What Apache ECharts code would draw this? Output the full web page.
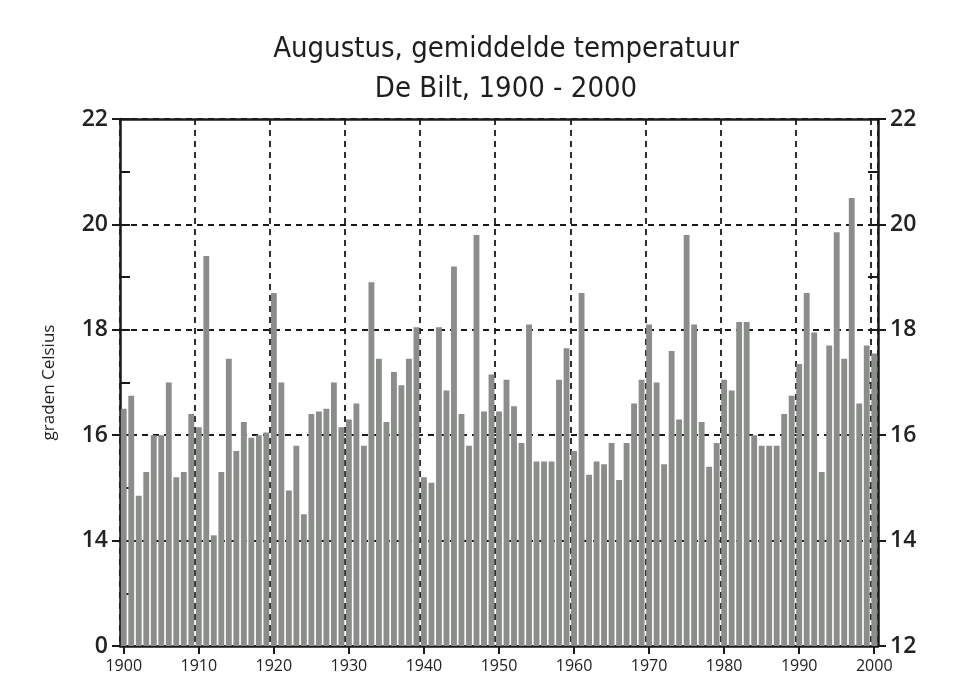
<!DOCTYPE html>
<html>
<head>
<meta charset="utf-8">
<title>Augustus, gemiddelde temperatuur De Bilt</title>
<script src="https://cdn.jsdelivr.net/npm/echarts@6/dist/echarts.min.js"></script>
<style>
  html, body { margin: 0; padding: 0; background: #ffffff; }
  #chart { width: 954px; height: 697px; }
</style>
</head>
<body>
<div id="chart"></div>
<script>
// August mean temperature, De Bilt
const firstYear = 1900;
const lastYear = 2000;
const years = [];
for (let y = firstYear; y <= lastYear; y++) years.push(String(y));

const temps1900s = [16.5, 16.75, 14.85, 15.3, 16.0, 16.0, 17.0, 15.2, 15.3, 16.4];
const temps1910s = [16.15, 19.4, 14.1, 15.3, 17.45, 15.7, 16.25, 15.95, 16.0, 16.05];
const temps1920s = [18.7, 17.0, 14.95, 15.8, 14.5, 16.4, 16.45, 16.5, 17.0, 16.15];
const temps1930s = [16.3, 16.6, 15.8, 18.9, 17.45, 16.25, 17.2, 16.95, 17.45, 18.05];
const temps1940s = [15.2, 15.1, 18.05, 16.85, 19.2, 16.4, 15.8, 19.8, 16.45, 17.15];
const temps1950s = [16.45, 17.05, 16.55, 15.85, 18.1, 15.5, 15.5, 15.5, 17.05, 17.65];
const temps1960s = [15.7, 18.7, 15.25, 15.5, 15.45, 15.85, 15.15, 15.85, 16.6, 17.05];
const temps1970s = [18.1, 17.0, 15.45, 17.6, 16.3, 19.8, 18.1, 16.25, 15.4, 15.85];
const temps1980s = [17.05, 16.85, 18.15, 18.15, 16.0, 15.8, 15.8, 15.8, 16.4, 16.75];
const temps1990s = [17.35, 18.7, 17.95, 15.3, 17.7, 19.85, 17.45, 20.5, 16.6, 17.7];
const temps2000 = [17.55];

const temps = [].concat(temps1900s, temps1910s, temps1920s, temps1930s, temps1940s,
  temps1950s, temps1960s, temps1970s, temps1980s, temps1990s, temps2000);

const yMin = 12;
const yMax = 22;

const chart = echarts.init(document.getElementById('chart'));

const axisFont = "'Open Sans', 'DejaVu Sans', sans-serif";
const titleFont = "'Liberation Sans Narrow', 'DejaVu Sans Condensed', 'Open Sans', sans-serif";

chart.setOption({
  animation: false,
  backgroundColor: '#ffffff',
  title: [
    {
      text: 'Augustus, gemiddelde temperatuur',
      left: 501,
      top: 30,
      textAlign: 'center',
      textStyle: { fontFamily: titleFont, fontSize: 29, fontWeight: 500, color: '#1e1e1e' }
    },
    {
      text: 'De Bilt, 1900 - 2000',
      left: 501,
      top: 70,
      textAlign: 'center',
      textStyle: { fontFamily: titleFont, fontSize: 29, fontWeight: 500, color: '#1e1e1e' }
    }
  ],
  grid: { left: 120, right: 76, top: 119, bottom: 51 },
  xAxis: [
    {
      type: 'category',
      data: years,
      boundaryGap: true,
      axisLine: { lineStyle: { color: '#1a1a1a', width: 2.5 } },
      axisTick: { show: true, alignWithLabel: true, interval: 9, length: 8, lineStyle: { color: '#1a1a1a', width: 2 } },
      axisLabel: { interval: 9, margin: 12, fontFamily: axisFont, fontSize: 16, color: '#222' },
      splitLine: {
        show: true,
        interval: 9,
        lineStyle: { color: '#1a1a1a', type: [6, 5], width: 1.8 }
      }
    },
    {
      type: 'category',
      data: years,
      position: 'top',
      axisLine: { show: true, lineStyle: { color: '#1a1a1a', width: 2.5 } },
      axisTick: { show: false },
      axisLabel: { show: false },
      splitLine: { show: false }
    }
  ],
  yAxis: [
    {
      type: 'value',
      name: 'graden Celsius',
      nameLocation: 'middle',
      nameGap: 62,
      nameRotate: 90,
      nameTextStyle: { fontFamily: axisFont, fontSize: 17, color: '#222' },
      min: yMin,
      max: yMax,
      interval: 2,
      axisLine: { show: true, lineStyle: { color: '#1a1a1a', width: 2.5 } },
      axisTick: { show: true, length: 8, lineStyle: { color: '#1a1a1a', width: 2 } },
      axisLabel: {
        margin: 12,
        fontFamily: axisFont,
        fontSize: 23,
        fontWeight: 600,
        color: '#222',
        formatter: function (v) { return v === yMin ? '0' : String(v); }
      },
      splitLine: { show: true, lineStyle: { color: '#1a1a1a', type: [6, 5], width: 1.8 } }
    },
    {
      type: 'value',
      position: 'right',
      min: yMin,
      max: yMax,
      interval: 2,
      axisLine: { show: true, lineStyle: { color: '#1a1a1a', width: 2.5 } },
      axisTick: { show: true, length: 8, lineStyle: { color: '#1a1a1a', width: 2 } },
      axisLabel: { margin: 12, fontFamily: axisFont, fontSize: 23, fontWeight: 600, color: '#222' },
      splitLine: { show: false }
    },
    {
      type: 'value',
      position: 'left',
      min: yMin,
      max: yMax,
      interval: 1,
      axisLine: { show: false },
      axisTick: { show: true, inside: true, length: 10, lineStyle: { color: '#1a1a1a', width: 2 } },
      axisLabel: { show: false },
      splitLine: { show: false }
    },
    {
      type: 'value',
      position: 'right',
      min: yMin,
      max: yMax,
      interval: 1,
      axisLine: { show: false },
      axisTick: { show: true, inside: true, length: 10, lineStyle: { color: '#1a1a1a', width: 2 } },
      axisLabel: { show: false },
      splitLine: { show: false }
    }
  ],
  series: [
    {
      name: 'Augustus',
      type: 'bar',
      data: temps,
      barCategoryGap: '22%',
      itemStyle: { color: '#8b8d8a' }
    }
  ]
});
</script>
</body>
</html>
